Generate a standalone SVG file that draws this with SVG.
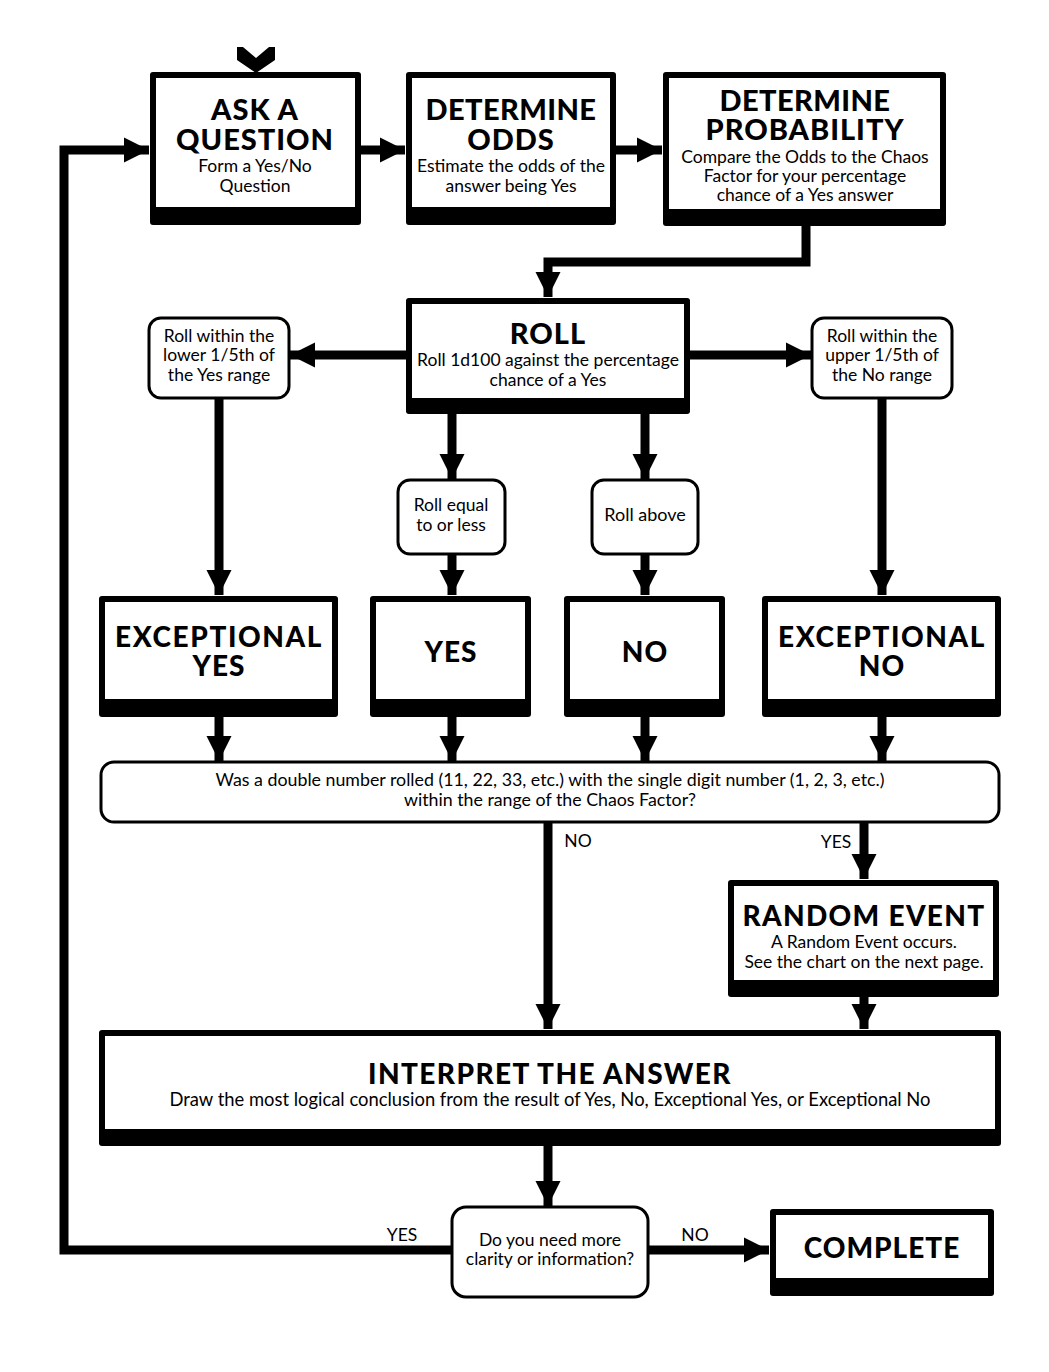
<svg xmlns="http://www.w3.org/2000/svg" width="1049" height="1372" viewBox="0 0 1049 1372">
<defs>
<style>
.t{font-family:"Lato","Liberation Sans",sans-serif;font-weight:900;fill:#000;text-anchor:middle;letter-spacing:1px}
.b{font-family:"Lato","Liberation Sans",sans-serif;font-weight:400;fill:#000;text-anchor:middle;font-size:17.5px}
.frame{fill:#000}
.inner{fill:#fff}
.rbox{fill:#fff;stroke:#000;stroke-width:3}
.ln{fill:none;stroke:#000;stroke-width:9;stroke-linejoin:miter;stroke-linecap:butt}
</style>
<marker id="ah" viewBox="0 0 10 10" refX="10" refY="5" markerWidth="2.8" markerHeight="2.8" orient="auto" markerUnits="strokeWidth">
<path d="M0,0 L10,5 L0,10 Z" fill="#000"/>
</marker>
</defs>
<rect width="1049" height="1372" fill="#fff"/>

<g id="connectors">
<polygon points="237,47 243,47 256,58 269,47 275,47 275,60 256,73 237,60" fill="#000"/>
<path class="ln" d="M361,150 H405" marker-end="url(#ah)"/>
<path class="ln" d="M616,150 H662" marker-end="url(#ah)"/>
<path class="ln" d="M806,226 V262 H548 V297" marker-end="url(#ah)"/>
<path class="ln" d="M406,355 H290" marker-end="url(#ah)"/>
<path class="ln" d="M690,355 H811" marker-end="url(#ah)"/>
<path class="ln" d="M452,414 V479" marker-end="url(#ah)"/>
<path class="ln" d="M645,414 V479" marker-end="url(#ah)"/>
<path class="ln" d="M219,398 V595" marker-end="url(#ah)"/>
<path class="ln" d="M882,398 V595" marker-end="url(#ah)"/>
<path class="ln" d="M452,554 V595" marker-end="url(#ah)"/>
<path class="ln" d="M645,554 V595" marker-end="url(#ah)"/>
<path class="ln" d="M219,717 V761" marker-end="url(#ah)"/>
<path class="ln" d="M452,717 V761" marker-end="url(#ah)"/>
<path class="ln" d="M645,717 V761" marker-end="url(#ah)"/>
<path class="ln" d="M882,717 V761" marker-end="url(#ah)"/>
<path class="ln" d="M548,822 V1029" marker-end="url(#ah)"/>
<path class="ln" d="M864,822 V879" marker-end="url(#ah)"/>
<path class="ln" d="M864,997 V1029" marker-end="url(#ah)"/>
<path class="ln" d="M548,1146 V1206" marker-end="url(#ah)"/>
<path class="ln" d="M451,1250 H64 V150 H149" marker-end="url(#ah)"/>
<path class="ln" d="M649,1250 H769" marker-end="url(#ah)"/>
<text class="b" x="578" y="847">NO</text>
<text class="b" x="836" y="848">YES</text>
<text class="b" x="402" y="1241">YES</text>
<text class="b" x="695" y="1241">NO</text>
</g>

<g id="ask">
<rect class="frame" x="150" y="72" width="211" height="153" rx="3"/>
<rect class="inner" x="156" y="78" width="199" height="129"/>
<text class="t" x="255" y="120" font-size="29">ASK A</text>
<text class="t" x="255" y="150" font-size="29">QUESTION</text>
<text class="b" x="255" y="172">Form a Yes/No</text>
<text class="b" x="255" y="192">Question</text>
</g>

<g id="odds">
<rect class="frame" x="406" y="72" width="210" height="153" rx="3"/>
<rect class="inner" x="412" y="78" width="198" height="129"/>
<text class="t" x="511" y="120" font-size="29" style="letter-spacing:0.4px">DETERMINE</text>
<text class="t" x="511" y="150" font-size="29">ODDS</text>
<text class="b" x="511" y="172">Estimate the odds of the</text>
<text class="b" x="511" y="192">answer being Yes</text>
</g>

<g id="probability">
<rect class="frame" x="663" y="72" width="283" height="154" rx="3"/>
<rect class="inner" x="669" y="78" width="271" height="131"/>
<text class="t" x="805" y="111" font-size="29" style="letter-spacing:0.4px">DETERMINE</text>
<text class="t" x="805" y="140" font-size="29">PROBABILITY</text>
<text class="b" x="805" y="163">Compare the Odds to the Chaos</text>
<text class="b" x="805" y="182">Factor for your percentage</text>
<text class="b" x="805" y="201">chance of a Yes answer</text>
</g>

<g id="roll">
<rect class="frame" x="406" y="298" width="284" height="116" rx="3"/>
<rect class="inner" x="412" y="304" width="272" height="94"/>
<text class="t" x="548" y="344" font-size="29">ROLL</text>
<text class="b" x="548" y="366">Roll 1d100 against the percentage</text>
<text class="b" x="548" y="386">chance of a Yes</text>
</g>

<g id="lower">
<rect class="rbox" x="149" y="318" width="140" height="80" rx="12"/>
<text class="b" x="219" y="342">Roll within the</text>
<text class="b" x="219" y="361">lower 1/5th of</text>
<text class="b" x="219" y="381">the Yes range</text>
</g>

<g id="upper">
<rect class="rbox" x="812" y="318" width="140" height="80" rx="12"/>
<text class="b" x="882" y="342">Roll within the</text>
<text class="b" x="882" y="361">upper 1/5th of</text>
<text class="b" x="882" y="381">the No range</text>
</g>

<g id="equal">
<rect class="rbox" x="398" y="480" width="107" height="74" rx="12"/>
<text class="b" x="451" y="511">Roll equal</text>
<text class="b" x="451" y="531">to or less</text>
</g>

<g id="above">
<rect class="rbox" x="592" y="480" width="106" height="74" rx="12"/>
<text class="b" x="645" y="521" style="font-size:18px">Roll above</text>
</g>

<g id="exyes">
<rect class="frame" x="99" y="596" width="239" height="121" rx="3"/>
<rect class="inner" x="105" y="602" width="227" height="97"/>
<text class="t" x="219" y="647" font-size="28" style="letter-spacing:1.6px">EXCEPTIONAL</text>
<text class="t" x="219" y="676" font-size="28">YES</text>
</g>

<g id="yes">
<rect class="frame" x="370" y="596" width="161" height="121" rx="3"/>
<rect class="inner" x="376" y="602" width="149" height="97"/>
<text class="t" x="451" y="662" font-size="28">YES</text>
</g>

<g id="no">
<rect class="frame" x="564" y="596" width="161" height="121" rx="3"/>
<rect class="inner" x="570" y="602" width="149" height="97"/>
<text class="t" x="645" y="662" font-size="28">NO</text>
</g>

<g id="exno">
<rect class="frame" x="762" y="596" width="239" height="121" rx="3"/>
<rect class="inner" x="768" y="602" width="227" height="97"/>
<text class="t" x="882" y="647" font-size="28" style="letter-spacing:1.6px">EXCEPTIONAL</text>
<text class="t" x="882" y="676" font-size="28">NO</text>
</g>

<g id="double">
<rect class="rbox" x="101" y="762" width="898" height="60" rx="13"/>
<text class="b" x="550" y="786" style="font-size:17.8px">Was a double number rolled (11, 22, 33, etc.) with the single digit number (1, 2, 3, etc.)</text>
<text class="b" x="550" y="806" style="font-size:17.8px">within the range of the Chaos Factor?</text>
</g>

<g id="random">
<rect class="frame" x="728" y="880" width="271" height="117" rx="3"/>
<rect class="inner" x="734" y="886" width="259" height="94"/>
<text class="t" x="864" y="926" font-size="28" style="letter-spacing:1.3px">RANDOM EVENT</text>
<text class="b" x="864" y="948">A Random Event occurs.</text>
<text class="b" x="864" y="968">See the chart on the next page.</text>
</g>

<g id="interpret">
<rect class="frame" x="99" y="1030" width="902" height="116" rx="3"/>
<rect class="inner" x="105" y="1036" width="890" height="93"/>
<text class="t" x="550" y="1084" font-size="28" style="letter-spacing:1.4px">INTERPRET THE ANSWER</text>
<text class="b" x="550" y="1106" style="font-size:18.4px">Draw the most logical conclusion from the result of Yes, No, Exceptional Yes, or Exceptional No</text>
</g>

<g id="clarity">
<rect class="rbox" x="452" y="1207" width="196" height="90" rx="14"/>
<text class="b" x="550" y="1246">Do you need more</text>
<text class="b" x="550" y="1265">clarity or information?</text>
</g>

<g id="complete">
<rect class="frame" x="770" y="1209" width="224" height="87" rx="3"/>
<rect class="inner" x="776" y="1215" width="212" height="63"/>
<text class="t" x="882" y="1258" font-size="28">COMPLETE</text>
</g>
</svg>
